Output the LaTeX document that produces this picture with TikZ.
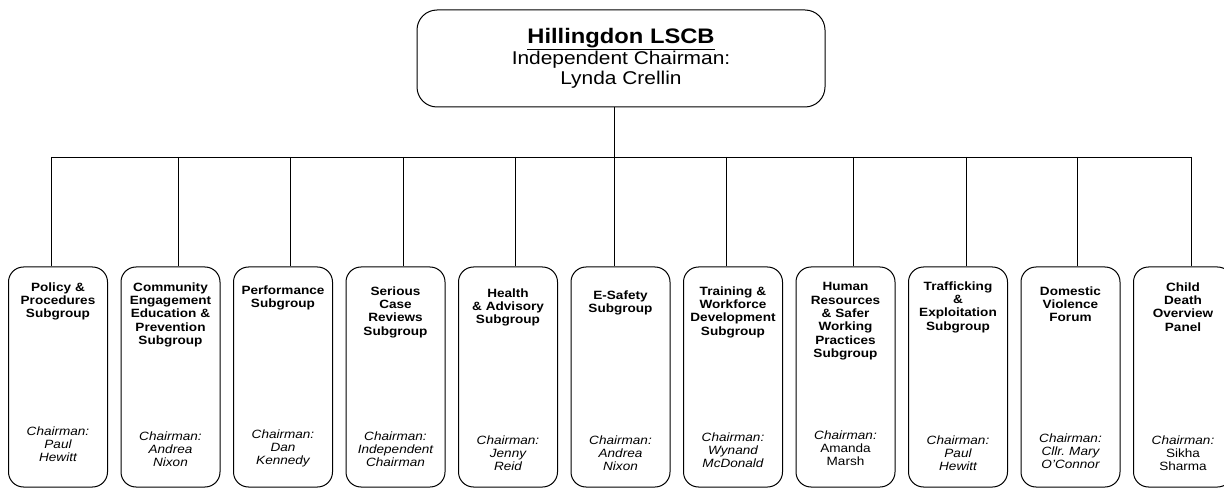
\documentclass[tikz,border=0pt]{standalone}
\usepackage{fontspec}
\setmainfont[FakeStretch=1.13]{Liberation Sans}
\usetikzlibrary{positioning}

\begin{document}
\begin{tikzpicture}[
    x=1pt, y=-1pt,
    font=\fontsize{12}{13.3}\selectfont,
    board/.style={draw, line width=1pt, rounded corners=20pt, minimum width=408pt,
                  minimum height=97pt, align=center, inner sep=0pt},
    subbox/.style={draw, line width=1pt, rounded corners=15pt, minimum width=99pt,
                   minimum height=220pt, inner sep=0pt},
    subtitle/.style={font=\fontsize{12}{13.3}\selectfont\bfseries, text width=97pt,
                     align=center, inner sep=0pt},
    chair/.style={font=\fontsize{12}{13.3}\selectfont\itshape, text width=97pt,
                  align=center, inner sep=0pt},
    link/.style={line width=0.8pt},
]

\useasboundingbox (0,0) rectangle (1224,489);

% Board
\node[board, font=\fontsize{18.5}{20.5}\selectfont] (lscb) at (621,58.5)
     {{\fontsize{21}{20}\selectfont\bfseries\underline{Hillingdon LSCB}}\\
      Independent Chairman:\\ Lynda Crellin};

% Subgroup boxes
\node[subbox] (b1) at (58,377) {};
\node[subbox] (b2) at (170.5,377) {};
\node[subbox] (b3) at (283,377) {};
\node[subbox] (b4) at (395.5,377) {};
\node[subbox] (b5) at (508,377) {};
\node[subbox] (b6) at (620.5,377) {};
\node[subbox] (b7) at (733,377) {};
\node[subbox] (b8) at (845.5,377) {};
\node[subbox] (b9) at (958,377) {};
\node[subbox] (b10) at (1070.5,377) {};
\node[subbox] (b11) at (1183,377) {};

% Subgroup names
\node[subtitle, below=16pt of b1.north] (t1) {Policy \&\\Procedures\\Subgroup};
\node[subtitle, below=16pt of b2.north] (t2) {Community\\Engagement\\Education \&\\Prevention\\Subgroup};
\node[subtitle, below=19pt of b3.north] (t3) {Performance\\Subgroup};
\node[subtitle, below=20pt of b4.north] (t4) {Serious\\Case\\Reviews\\Subgroup};
\node[subtitle, below=22pt of b5.north] (t5) {Health\\\& Advisory\\Subgroup};
\node[subtitle, below=24pt of b6.north] (t6) {E-Safety\\Subgroup};
\node[subtitle, below=20pt of b7.north] (t7) {Training \&\\Workforce\\Development\\Subgroup};
\node[subtitle, below=16pt of b8.north] (t8) {Human\\Resources\\\& Safer\\Working\\Practices\\Subgroup};
\node[subtitle, below=15pt of b9.north] (t9) {Trafficking\\\&\\Exploitation\\Subgroup};
\node[subtitle, below=20pt of b10.north] (t10) {Domestic\\Violence\\Forum};
\node[subtitle, below=16pt of b11.north] (t11) {Child\\Death\\Overview\\Panel};

% Chairmen
\node[chair, below=160pt of b1.north] (c1) {Chairman:\\Paul\\Hewitt};
\node[chair, below=165pt of b2.north] (c2) {Chairman:\\Andrea\\Nixon};
\node[chair, below=163pt of b3.north] (c3) {Chairman:\\Dan\\Kennedy};
\node[chair, below=165pt of b4.north] (c4) {Chairman:\\Independent\\Chairman};
\node[chair, below=169pt of b5.north] (c5) {Chairman:\\Jenny\\Reid};
\node[chair, below=169pt of b6.north] (c6) {Chairman:\\Andrea\\Nixon};
\node[chair, below=166pt of b7.north] (c7) {Chairman:\\Wynand\\McDonald};
\node[chair, below=164pt of b8.north] (c8) {Chairman:\\\upshape Amanda\\\upshape Marsh};
\node[chair, below=169pt of b9.north] (c9) {Chairman:\\Paul\\Hewitt};
\node[chair, below=167pt of b10.north] (c10) {Chairman:\\Cllr.\ Mary\\O’Connor};
\node[chair, below=169pt of b11.north] (c11) {Chairman:\\\upshape Sikha\\\upshape Sharma};

% Connectors
\coordinate (bus) at (614,157);
\draw[link] ([xshift=-7pt]lscb.south) -- ([xshift=-7pt]lscb.south |- bus);
\draw[link] ([xshift=-7pt]b1.north |- bus) -- ([xshift=8pt]b11.north |- bus);
\draw[link] ([xshift=-7pt]b1.north |- bus) -- ([xshift=-7pt]b1.north);
\draw[link] ([xshift=7.5pt]b2.north |- bus) -- ([xshift=7.5pt]b2.north);
\draw[link] ([xshift=7pt]b3.north |- bus) -- ([xshift=7pt]b3.north);
\draw[link] ([xshift=7.5pt]b4.north |- bus) -- ([xshift=7.5pt]b4.north);
\draw[link] ([xshift=7pt]b5.north |- bus) -- ([xshift=7pt]b5.north);
\draw[link] ([xshift=-6.5pt]b6.north |- bus) -- ([xshift=-6.5pt]b6.north);
\draw[link] ([xshift=-7pt]b7.north |- bus) -- ([xshift=-7pt]b7.north);
\draw[link] ([xshift=7.5pt]b8.north |- bus) -- ([xshift=7.5pt]b8.north);
\draw[link] ([xshift=8pt]b9.north |- bus) -- ([xshift=8pt]b9.north);
\draw[link] ([xshift=6.5pt]b10.north |- bus) -- ([xshift=6.5pt]b10.north);
\draw[link] ([xshift=8pt]b11.north |- bus) -- ([xshift=8pt]b11.north);

\end{tikzpicture}
\end{document}
